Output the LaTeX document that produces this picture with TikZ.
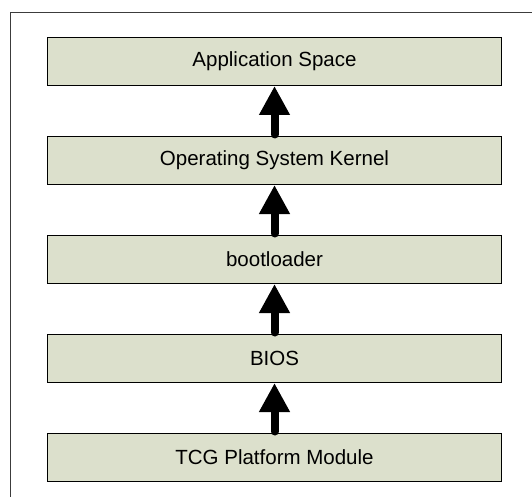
\documentclass[tikz,border=0pt]{standalone}
\usepackage{fontspec}
\setmainfont{Liberation Sans}
\usepackage{tikz}
\usetikzlibrary{arrows.meta}
\usetikzlibrary{positioning}
\definecolor{layerfill}{RGB}{220,224,204}
\definecolor{framegray}{RGB}{60,60,60}
\tikzset{layer/.style={draw=black,fill=layerfill,line width=1pt,minimum width=454pt,minimum height=48pt,inner sep=0pt,font=\fontsize{20.5}{24}\selectfont}}
\tikzset{trustarrow/.style={line width=8pt,line cap=round,-{Triangle[width=29pt,length=29pt]}}}

\begin{document}
\begin{tikzpicture}[node distance=50pt]

\useasboundingbox (0pt,0pt) rectangle (532pt,-497pt);
% frame, only top and left edge
\draw[framegray,line width=1pt] (10pt,-497pt) -- (10pt,-13pt) -- (532pt,-13pt);

\node[layer] (app) at (274.5pt,-61.5pt) {Application Space};
\node[layer,below=of app] (kernel) {Operating System Kernel};
\node[layer,below=of kernel] (boot) {bootloader};
\node[layer,below=of boot] (bios) {BIOS};
\node[layer,below=of bios] (tpm) {TCG Platform Module};

\foreach \a/\b in {tpm/bios, bios/boot, boot/kernel, kernel/app}
  {
 \draw[trustarrow] ([yshift=1.5pt]\a.north) -- (\b.south);
 }

\end{tikzpicture}
\end{document}
